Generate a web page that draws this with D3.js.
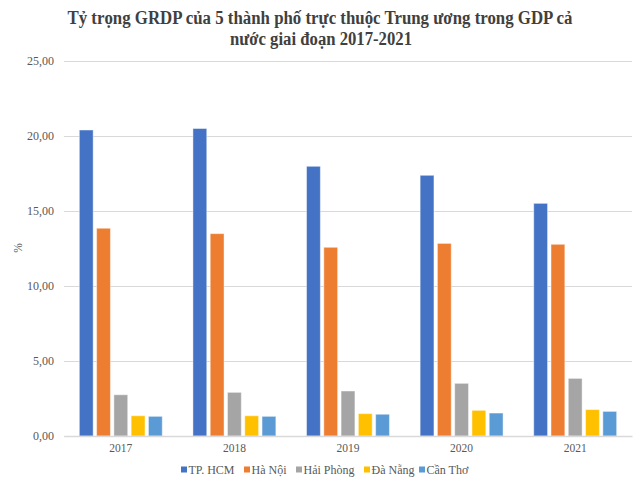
<!DOCTYPE html>
<html><head><meta charset="utf-8">
<script src="https://cdn.jsdelivr.net/npm/d3@7/dist/d3.min.js"></script>
<style>body{margin:0;background:#fff}svg{display:block}</style>
</head><body><svg id="c" width="640" height="481"></svg>
<script>
const years = ["2017","2018","2019","2020","2021"];
const seriesNames = ["TP. HCM","Hà Nội","Hải Phòng","Đà Nẵng","Cần Thơ"];
const hcm = [20.40, 20.50, 17.98, 17.38, 15.51];
const hanoi = [13.85, 13.49, 12.58, 12.84, 12.78];
const haiphong = [2.75, 2.91, 3.00, 3.51, 3.84];
const danang = [1.35, 1.35, 1.49, 1.71, 1.76];
const cantho = [1.31, 1.31, 1.45, 1.53, 1.64];
const yTicks = [0,5,10,15,20,25];
const colors = ["#4472C4","#ED7D31","#A5A5A5","#FFC000","#5B9BD5"];
const seriesVals = [hcm, hanoi, haiphong, danang, cantho];

const svg = d3.select("#c");
const font = "'Liberation Serif','Times New Roman',serif";
const L = 64, R = 632, T = 61, B = 436;

const x0 = d3.scaleBand().domain(years).range([L, R]).paddingInner(0.27).paddingOuter(0.135);
const x1 = d3.scaleBand().domain(seriesNames).range([0, x0.bandwidth()]).paddingInner(0.2);
const y = d3.scaleLinear().domain([0,25]).range([B, T]);

// title (two lines, as in the reference)
const titleLines = [
  {t: "Tỷ trọng GRDP của 5 thành phố trực thuộc Trung ương trong GDP cả", x: 320, y: 24, w: 505},
  {t: "nước giai đoạn 2017-2021", x: 321, y: 45, w: 182}
];
svg.append("g").selectAll("text").data(titleLines).join("text")
  .attr("x", d => d.x).attr("y", d => d.y).attr("text-anchor","middle")
  .attr("textLength", d => d.w).attr("lengthAdjust","spacingAndGlyphs")
  .attr("font-family", font).attr("font-weight","bold").attr("font-size", 18).attr("fill","#404040")
  .text(d => d.t);

// grid
const yAxis = d3.axisLeft(y).tickValues(yTicks).tickSize(-(R-L)).tickPadding(10)
  .tickFormat(d => d3.format(".2f")(d).replace(".", ","));
const gy = svg.append("g").attr("transform", `translate(${L},0)`).call(yAxis);
gy.select(".domain").remove();
gy.selectAll(".tick line").attr("stroke","#d9d9d9").attr("stroke-width",1);
gy.selectAll(".tick text").attr("font-family", font).attr("font-size", 12).attr("fill","#595959");

// bars
const groups = svg.append("g").selectAll("g").data(years).join("g")
  .attr("transform", d => `translate(${x0(d)},0)`);
groups.selectAll("rect").data((d,i) => seriesNames.map((s,j) => ({s, v: seriesVals[j][i], c: colors[j]})))
  .join("rect")
  .attr("x", d => x1(d.s)).attr("width", x1.bandwidth())
  .attr("y", d => y(d.v)).attr("height", d => y(0) - y(d.v))
  .attr("fill", d => d.c).attr("stroke", "#ffffff").attr("stroke-opacity",0.45).attr("stroke-width", 1);

// x axis
const xAxis = d3.axisBottom(x0).tickSize(0).tickPadding(8);
const gx = svg.append("g").attr("transform", `translate(0,${B})`).call(xAxis);
gx.select(".domain").attr("stroke","#d9d9d9").attr("stroke-width",1.5);
gx.selectAll(".tick text").attr("font-family", font).attr("font-size", 11.5).attr("fill","#595959");

// y label
svg.append("text").attr("transform","translate(22,248) rotate(-90)").attr("text-anchor","middle")
  .attr("font-family", font).attr("font-size", 11.5).attr("fill","#595959").text("%");

// legend
const legendX = [181, 244, 296, 364, 419];
const lg = svg.append("g").selectAll("g").data(seriesNames).join("g")
  .attr("transform", (d,i) => `translate(${legendX[i]},469)`);
lg.append("rect").attr("x",0).attr("y",-2.5).attr("width",6).attr("height",6).attr("fill",(d,i)=>colors[i]);
lg.append("text").attr("x",7.5).attr("y",4.5).attr("font-family", font).attr("font-size", 12)
  .attr("fill","#595959").text(d=>d);
</script></body></html>
